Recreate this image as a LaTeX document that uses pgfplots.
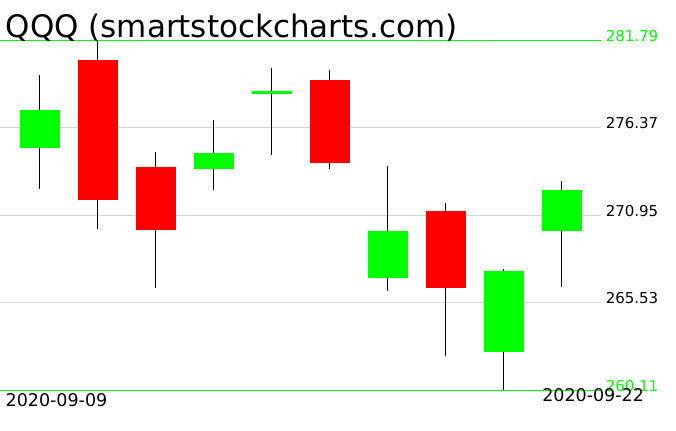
\documentclass[border=0pt]{standalone}
\usepackage{pgfplots}
\pgfplotsset{compat=1.18}
\usepackage{fontspec}
\setmainfont{DejaVu Sans}
\definecolor{cgreen}{RGB}{0,255,0}
\definecolor{cred}{RGB}{255,0,0}
\definecolor{cgrid}{RGB}{211,211,211}
% candle: x, open, high, low, close, colour
\newcommand{\candle}[6]{%
  \addplot[black, line width=1pt] coordinates {(#1,#4) (#1,#3)};
  \addplot[#6, line width=40pt, line cap=butt] coordinates {(#1,#2) (#1,#5)};
}
\newcommand{\priceline}[2]{%
  \addplot[#2, line width=1pt] coordinates {(-0.681034,#1) (9.681,#1)};
}
\begin{document}
\begin{tikzpicture}
\begin{axis}[width=676pt,height=431pt,scale only axis,
  xmin=-0.681034,xmax=10.974138,ymin=257.601,ymax=284.2987,
  hide axis, clip=false]
\path (rel axis cs:0,0) rectangle (rel axis cs:1,1);
\priceline{276.37}{cgrid}
\priceline{270.95}{cgrid}
\priceline{265.53}{cgrid}
\priceline{281.79}{cgreen}
\priceline{260.11}{cgreen}
\candle{0}{275.12}{279.62}{272.58}{277.45}{cgreen}
\candle{1}{280.55}{281.79}{270.10}{271.88}{cred}
\candle{2}{273.94}{274.85}{266.45}{270.02}{cred}
\candle{3}{273.80}{276.83}{272.52}{274.79}{cgreen}
\candle{4}{278.48}{280.06}{274.67}{278.63}{cgreen}
\candle{5}{279.37}{279.93}{273.82}{274.17}{cred}
\candle{6}{267.07}{273.99}{266.29}{269.96}{cgreen}
\candle{7}{271.20}{271.71}{262.23}{266.45}{cred}
\candle{8}{262.48}{267.65}{260.11}{267.48}{cgreen}
\candle{9}{269.98}{273.06}{266.51}{272.50}{cgreen}
\node[anchor=base west, inner sep=0pt, font=\fontsize{31}{31}\selectfont] at (rel axis cs:0.0074,0.9118) {QQQ (smartstockcharts.com)};
\node[anchor=base west, inner sep=0pt, text=cgreen, font=\fontsize{15}{15}\selectfont] at (axis cs:9.7586,281.728) {281.79};
\node[anchor=base west, inner sep=0pt, font=\fontsize{15}{15}\selectfont] at (axis cs:9.7586,276.308) {276.37};
\node[anchor=base west, inner sep=0pt, font=\fontsize{15}{15}\selectfont] at (axis cs:9.7586,270.888) {270.95};
\node[anchor=base west, inner sep=0pt, font=\fontsize{15}{15}\selectfont] at (axis cs:9.7586,265.468) {265.53};
\node[anchor=base west, inner sep=0pt, text=cgreen, font=\fontsize{15}{15}\selectfont] at (axis cs:9.7586,260.048) {260.11};
\node[anchor=base west, inner sep=0pt, font=\fontsize{17.5}{17.5}\selectfont] at (rel axis cs:0.0074,0.0557) {2020-09-09};
\node[anchor=base west, inner sep=0pt, font=\fontsize{17.5}{17.5}\selectfont] at (rel axis cs:0.8018,0.0673) {2020-09-22};
\end{axis}
\end{tikzpicture}
\end{document}
